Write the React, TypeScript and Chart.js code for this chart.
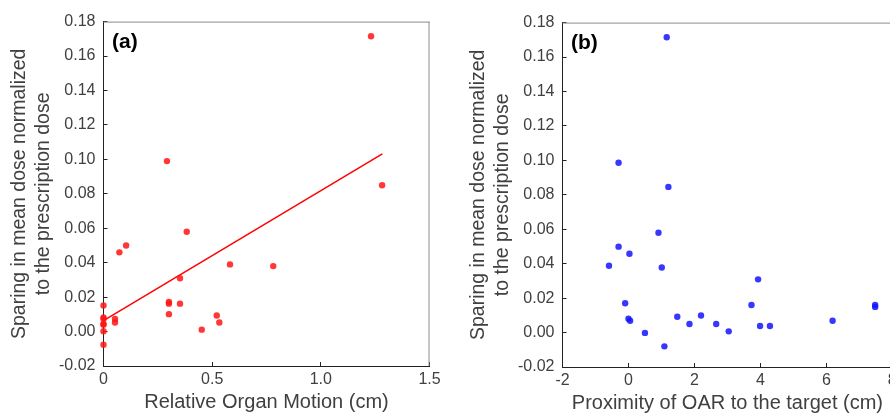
import React, { useEffect, useRef } from "react";
import { Chart, registerables } from "chart.js";

Chart.register(...registerables);

// ---------- data ----------
const motionX = [1.231, 0.292, 1.282, 0.383, 0.104, 0.073, 0.582, 0.781, 0.352, 0.301, 0.301, 0.352, 0.301, 0.053, 0.053, 0.452, 0.521, 0.533, 0, 0, 0, 0, 0, 0, 0];
const motionY = [0.1715, 0.099, 0.085, 0.058, 0.05, 0.046, 0.039, 0.038, 0.031, 0.0172, 0.0162, 0.0162, 0.0101, 0.0073, 0.0053, 0.0011, 0.0093, 0.0053, 0.0151, 0.0082, 0.0073, 0.0044, 0.004, 0.0002, -0.0076];

const fitX = [0, 1.283];
const fitY = [0.0063, 0.1032];

const proximityX = [1.16, -0.3, 1.21, 0.91, -0.3, 0.03, -0.59, 1.01, 3.93, -0.1, 3.73, 7.48, 7.48, 0.0, 0.05, 1.48, 2.2, 1.85, 2.66, 3.04, 3.99, 4.29, 6.19, 0.5, 1.09];
const proximityY = [0.1715, 0.0986, 0.0846, 0.058, 0.0499, 0.0458, 0.0388, 0.0378, 0.0309, 0.017, 0.016, 0.016, 0.0149, 0.008, 0.0069, 0.0092, 0.0099, 0.005, 0.005, 0.0007, 0.0038, 0.0038, 0.0069, -0.0002, -0.008];

const yTitle = ["Sparing in mean dose normalized", "to the prescription dose"];
const xTitleA = "Relative Organ Motion (cm)";
const xTitleB = "Proximity of OAR to the target (cm)";
const panelLabels = ["(a)", "(b)"];

// ---------- styles ----------
const FONT = "'Liberation Sans', Arial, sans-serif";
const TEXT = "#404040";
const AXIS = "#222222";
const FRAME = "#8c8c8c";

const toPts = (xs: number[], ys: number[]) => xs.map((x, i) => ({ x, y: ys[i] }));

const framePlugin = (label: string) => ({
  id: "frameAndLabel",
  afterDraw(chart: any) {
    const { ctx, chartArea } = chart;
    ctx.save();
    ctx.strokeStyle = FRAME;
    ctx.lineWidth = 1;
    ctx.beginPath();
    ctx.moveTo(chartArea.left, chartArea.top + 0.5);
    ctx.lineTo(chartArea.right, chartArea.top + 0.5);
    ctx.moveTo(chartArea.right - 0.5, chartArea.top);
    ctx.lineTo(chartArea.right - 0.5, chartArea.bottom);
    ctx.stroke();
    ctx.fillStyle = "#000";
    ctx.font = `bold 21px ${FONT}`;
    ctx.textBaseline = "middle";
    ctx.textAlign = "left";
    ctx.fillText(label, chartArea.left + 8.5, chartArea.top + 20.5);
    ctx.restore();
  },
});

function makeConfig(opts: {
  datasets: any[];
  xMin: number;
  xMax: number;
  xStep: number;
  xTitle: string;
  label: string;
  padRight: number;
}): any {
  return {
    type: "scatter",
    data: { datasets: opts.datasets },
    plugins: [framePlugin(opts.label)],
    options: {
      responsive: false,
      animation: false,
      events: [],
      layout: { padding: { left: 0, top: 17, right: opts.padRight, bottom: 0 } },
      plugins: { legend: { display: false }, tooltip: { enabled: false } },
      scales: {
        x: {
          type: "linear",
          min: opts.xMin,
          max: opts.xMax,
          ticks: {
            stepSize: opts.xStep,
            padding: 8,
            color: TEXT,
            font: { family: FONT, size: 16 },
            maxRotation: 0,
            autoSkip: false,
          },
          grid: { drawOnChartArea: false, drawTicks: true, tickLength: -4, color: AXIS },
          border: { display: true, color: AXIS, width: 1 },
          title: {
            display: true,
            text: opts.xTitle,
            color: TEXT,
            font: { family: FONT, size: 20 },
            padding: { top: 0, bottom: 5 },
          },
          afterFit: (s: any) => {
            s.height = 53;
          },
        },
        y: {
          type: "linear",
          min: -0.02,
          max: 0.18,
          ticks: {
            stepSize: 0.02,
            padding: 12,
            color: TEXT,
            font: { family: FONT, size: 16 },
            callback: (v: any) => (Math.round(Number(v) * 100) / 100 + 0).toFixed(2),
          },
          grid: { drawOnChartArea: false, drawTicks: true, tickLength: -4, color: AXIS },
          border: { display: true, color: AXIS, width: 1 },
          title: {
            display: true,
            text: yTitle,
            color: TEXT,
            font: { family: FONT, size: 19.5, lineHeight: 1.25 },
            padding: { top: 7, bottom: 0 },
          },
          afterFit: (s: any) => {
            s.width = 103.5;
          },
        },
      },
    },
  };
}

function Panel({ left, top, width, height, config }: any) {
  const ref = useRef<HTMLCanvasElement>(null);
  useEffect(() => {
    const chart = new Chart(ref.current as HTMLCanvasElement, config);
    return () => chart.destroy();
  }, []);
  return (
    <canvas
      ref={ref}
      width={width}
      height={height}
      style={{ position: "absolute", left, top, width, height, display: "block" }}
    />
  );
}

export default function App() {
  const configA = makeConfig({
    datasets: [
      {
        type: "scatter",
        data: toPts(motionX, motionY),
        backgroundColor: "rgba(255,20,20,0.85)",
        borderWidth: 0,
        pointRadius: 3.2,
        clip: false,
      },
      {
        type: "line",
        data: toPts(fitX, fitY),
        borderColor: "#ff0000",
        borderWidth: 1.5,
        pointRadius: 0,
        fill: false,
        showLine: true,
      },
    ],
    xMin: 0,
    xMax: 1.5,
    xStep: 0.5,
    xTitle: xTitleA,
    label: panelLabels[0],
    padRight: 30.5,
  });
  const configB = makeConfig({
    datasets: [
      {
        type: "scatter",
        data: toPts(proximityX, proximityY),
        backgroundColor: "rgba(20,20,255,0.85)",
        borderWidth: 0,
        pointRadius: 3.2,
        clip: false,
      },
    ],
    xMin: -2,
    xMax: 8,
    xStep: 2,
    xTitle: xTitleB,
    label: panelLabels[1],
    padRight: 26.7,
  });
  return (
    <div
      style={{
        position: "fixed",
        left: 0,
        top: 0,
        width: 890,
        height: 419,
        overflow: "hidden",
        background: "#fff",
      }}
    >
      <Panel left={0} top={0} width={460} height={419} config={configA} />
      <Panel left={459} top={1} width={460} height={419} config={configB} />
    </div>
  );
}
